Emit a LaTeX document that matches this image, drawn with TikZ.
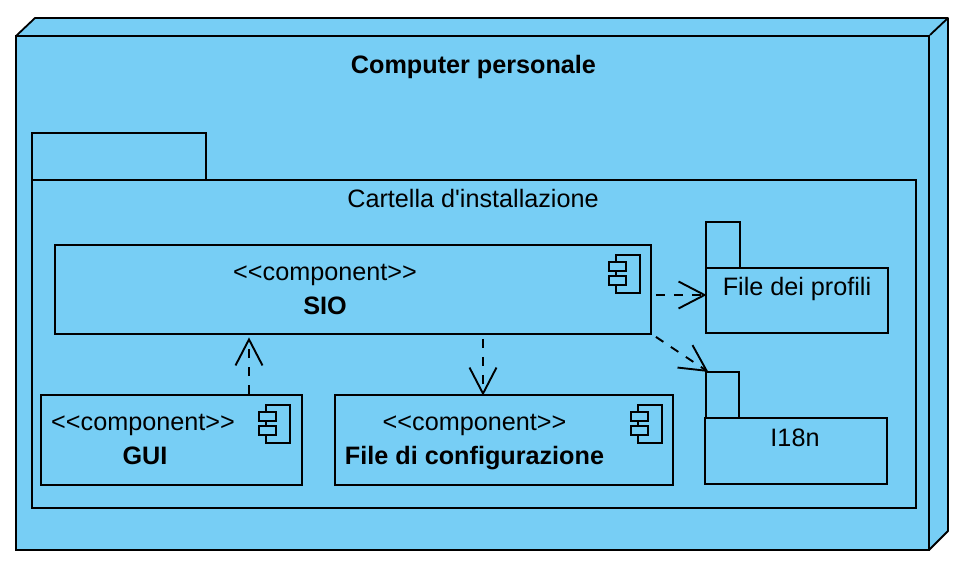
\documentclass[tikz,border=0pt]{standalone}
\usepackage{fontspec}
\usepackage{tikz}
\usetikzlibrary{arrows.meta,positioning,calc}
\newfontfamily\diagfont{Liberation Sans}
\definecolor{nodeblue}{HTML}{77CEF5}

\begin{document}
\begin{tikzpicture}[x=1pt, y=-1pt,
    txt/.style={font=\diagfont\fontsize{25.2}{34}\selectfont, align=center, inner sep=0pt},
    title/.style={txt, font=\diagfont\bfseries\fontsize{25.2}{34}\selectfont},
    box/.style={rectangle, draw=black, fill=nodeblue, line width=1.8pt, inner sep=0pt},
    depline/.style={draw, line width=1.9pt, dash pattern=on 9pt off 9pt, shorten >=-1.5pt,
        -{Straight Barb[length=26pt, width=27pt, line width=1.9pt]}},
    compicon/.pic={
        \draw[line width=1.8pt, fill=nodeblue] (-24,0) rectangle (0,38);
        \draw[line width=1.8pt, fill=nodeblue] (-31,7) rectangle (-14,16);
        \draw[line width=1.8pt, fill=nodeblue] (-31,21) rectangle (-14,30);
    }]
    \useasboundingbox (0,0) rectangle (970,572);

    % ====== Computer personale ======
    \draw[line width=1.8pt, fill=nodeblue, line join=round]
        (16,36) -- (35,18) -- (948,18) -- (948,531) -- (929,550) -- cycle;
    \node [box, line width=2.2pt, minimum width=913pt, minimum height=514pt] (pc) at (472.5,293) {};
    \draw[line width=1.8pt] (pc.north east) -- (948,18);
    \node [title] (pctitle) at (473.5,67) {Computer personale};

    % ====== Cartella d'installazione ======
    \node [box, minimum width=174pt, minimum height=47pt] (cartellatab) at (119,156.6) {};
    \node [box, minimum width=884pt, minimum height=328pt] (cartella) at (474,344) {};
    \node [txt] (cartellatext) at (473,198.5) {Cartella d'installazione};

    % ====== Components ======
    \node [box, minimum width=596pt, minimum height=89pt] (sio) at (353,289.5) {};
    \node [txt] (siotext) at (325,289.5) {<<component>>\\\textbf{SIO}};
    \pic at ([shift={(-12,11)}]sio.north east) {compicon};

    \node [box, minimum width=261pt, minimum height=90pt] (gui) at (171.5,440) {};
    \node [txt] (guitext) at (143,439) {<<component>>\\\hspace*{4pt}\textbf{GUI}};
    \pic at ([shift={(-13,11)}]gui.north east) {compicon};

    \node [box, minimum width=338pt, minimum height=90pt] (config) at (504,440) {};
    \node [txt] (configtext) at (474.5,442) {<<component>>\\\textbf{File di configurazione}};
    \pic at ([shift={(-12,11)}]config.north east) {compicon};

    % ====== Folders ======
    \node [box, minimum width=34pt, minimum height=46pt] (profilitab) at (723,245) {};
    \node [box, minimum width=182pt, minimum height=65pt] (profili) at (797,300.5) {};
    \node [txt] (profilitext) at (797,289) {File dei profili};

    \node [box, minimum width=33pt, minimum height=46pt] (i18ntab) at (722.5,395) {};
    \node [box, minimum width=182pt, minimum height=66pt] (i18n) at (796,451) {};
    \node [txt] (i18ntext) at (795,438) {I18n};

    % ====== Lines ======
    \path [depline] ([shift={(4,5.5)}]sio.east) -- ([yshift=5.5pt]profili.west);
    \path [depline] ([shift={(4,2)}]sio.south east) -- ([xshift=2pt]i18ntab.north west);
    \path [depline] ([shift={(130,4)}]sio.south) -- ([xshift=-21pt]config.north);
    \path [depline] ([xshift=77.5pt]gui.north) -- ([shift={(-104,4)}]sio.south);
\end{tikzpicture}
\end{document}
